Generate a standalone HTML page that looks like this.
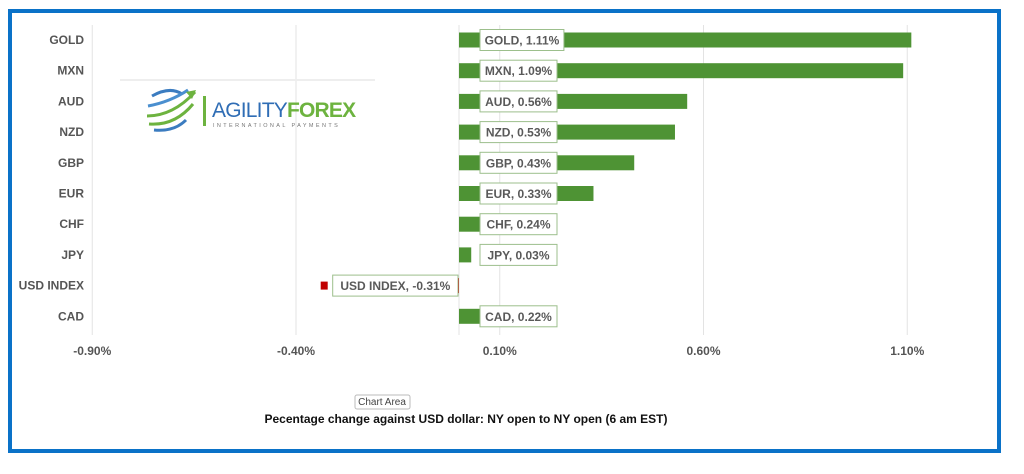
<!DOCTYPE html>
<html><head><meta charset="utf-8"><style>
body{margin:0;background:#fff;width:1024px;height:474px;overflow:hidden;font-family:"Liberation Sans",sans-serif}
#frame{position:absolute;left:8px;top:9px;width:985px;height:436px;border:4px solid #0a72c8}
svg{position:absolute;left:0;top:0}
</style></head><body>
<div id="frame"></div>
<svg id="chart" width="1024" height="474">
<g id="grid"></g><g id="bars"></g>
<g>
<line x1="120" y1="80" x2="375" y2="80" stroke="#eee" stroke-width="2"/>
<g fill="none" stroke-width="3">
<path d="M152 96 q18 -10 30 -2" stroke="#3b7cc0"/>
<path d="M148 106 q22 -4 40 -16" stroke="#4a8fcf"/>
<path d="M147 116 q26 0 48 -24" stroke="#6db33f"/>
<path d="M149 124 q26 2 44 -20" stroke="#6db33f"/>
<path d="M154 130 q20 2 32 -10" stroke="#3b7cc0"/>
</g>
<polygon points="186,92 196,90 192,99" fill="#6db33f"/>
<rect x="203" y="96" width="3" height="30" fill="#6db33f"/>
<text x="212" y="117" font-size="21" fill="#2f6db5" letter-spacing="-0.8">AGILITY<tspan fill="#6db33f" font-weight="bold">FOREX</tspan></text>
<text x="213" y="127" font-size="5.5" fill="#777" letter-spacing="2.4">INTERNATIONAL PAYMENTS</text>
</g>
<text x="382" y="405" font-size="10" fill="#444" text-anchor="middle">Chart Area</text>
<rect x="355" y="395" width="55" height="14" fill="none" stroke="#bbb" rx="2"/>
<text x="466" y="423" font-size="12" font-weight="bold" fill="#111" text-anchor="middle">Pecentage change against USD dollar:  NY open to NY open  (6 am EST)</text>
</svg>
<script>
const categories=["GOLD","MXN","AUD","NZD","GBP","EUR","CHF","JPY","USD INDEX","CAD"];
const values=[1.11,1.09,0.56,0.53,0.43,0.33,0.24,0.03,-0.31,0.22];
const ticks=[-0.9,-0.4,0.1,0.6,1.1];
const NS="http://www.w3.org/2000/svg";
const x=v=>459+v*407.5;
const y=i=>40+i*30.7;
const grid=document.getElementById('grid'),bars=document.getElementById('bars');
function mk(t,a,p){const e=document.createElementNS(NS,t);for(const k in a)e.setAttribute(k,a[k]);p.appendChild(e);return e;}
ticks.forEach(t=>{
 const l=mk('line',{x1:x(t),x2:x(t),y1:25,y2:335,stroke:'#e3e3e3'},grid);
 
 
 const s=mk('text',{x:x(t),y:355,'font-size':12,'font-weight':'bold',fill:'#555','text-anchor':'middle'},grid);
 s.textContent=t.toFixed(2)+'%';
 
 
});
mk('line',{x1:x(0),x2:x(0),y1:25,y2:335,stroke:'#e3e3e3'},grid);
categories.forEach((c,i)=>{
 const v=values[i],cy=y(i);
 const lab=mk('text',{x:84,y:cy+4,'font-size':12,'font-weight':'bold',fill:'#555','text-anchor':'end'},bars);
 lab.textContent=c;
 
 
 const x0=Math.min(x(0),x(v)),w=Math.abs(x(v)-x(0));
 const col=v<0?'#c00000':'#4e9334';
 const b=mk('rect',{x:x0,y:cy-7.5,width:w,height:15,fill:col},bars);
 
 
 const txt=c+', '+v.toFixed(2)+'%';
 const bw=txt.length*6.9+8;
 const bx=v<0?x(0)-bw-1:x(0)+21;
 if(v<0){
  const m=mk('rect',{x:bx-12,y:cy-4,width:7,height:8,fill:col},bars);
  
  
 }
 const box=mk('rect',{x:bx,y:cy-10.5,width:bw,height:21,fill:'#fff',stroke:'#9cbf8c'},bars);
 
 
 const t=mk('text',{x:bx+bw/2,y:cy+4.5,'font-size':12,'font-weight':'bold',fill:'#595959','text-anchor':'middle'},bars);
 t.textContent=txt;
 
 
});
</script>
</body></html>
